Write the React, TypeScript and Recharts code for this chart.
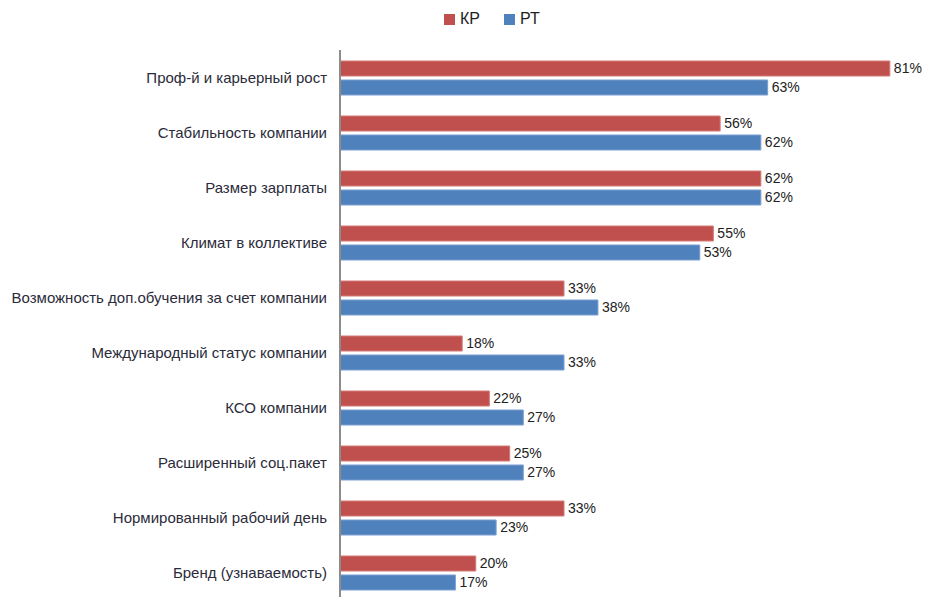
import React from "react";
import { BarChart, Bar, XAxis, YAxis, LabelList } from "recharts";

const categories = [
  "Проф-й и карьерный рост",
  "Стабильность компании",
  "Размер зарплаты",
  "Климат в коллективе",
  "Возможность доп.обучения за счет компании",
  "Международный статус компании",
  "КСО компании ",
  "Расширенный соц.пакет",
  "Нормированный рабочий день",
  "Бренд (узнаваемость)",
];
const krValues = [81, 56, 62, 55, 33, 18, 22, 25, 33, 20];
const rtValues = [63, 62, 62, 53, 38, 33, 27, 27, 23, 17];

const RED = "#C0504D";
const BLUE = "#4F81BD";
const FONT = "'Liberation Sans', Arial, sans-serif";

const data = categories.map((name, i) => ({ name, kr: krValues[i], rt: rtValues[i] }));

const pct = (v: any) => `${v}%`;

export default function App() {
  return (
    <div style={{ position: "absolute", left: 0, top: 0, width: 926, height: 610, background: "#fff", fontFamily: FONT }}>
      <div
        style={{
          position: "absolute",
          top: 10,
          left: 444,
          display: "flex",
          gap: 24,
          fontSize: 16,
          color: "#222",
        }}
      >
        <span style={{ display: "flex", alignItems: "center", gap: 5 }}>
          <span style={{ width: 11, height: 11, background: RED, display: "inline-block" }} />
          КР
        </span>
        <span style={{ display: "flex", alignItems: "center", gap: 5 }}>
          <span style={{ width: 11, height: 11, background: BLUE, display: "inline-block" }} />
          РТ
        </span>
      </div>
      <BarChart
        width={926}
        height={610}
        data={data}
        layout="vertical"
        margin={{ top: 50, right: 9, bottom: 10, left: 0 }}
        barSize={15}
        barGap={4}
      >
        <XAxis type="number" domain={[0, 85]} hide />
        <YAxis
          type="category"
          dataKey="name"
          width={340}
          tickLine={false}
          tickSize={0}
          tickMargin={13}
          axisLine={{ stroke: "#8c8c8c", strokeWidth: 2 }}
          tick={{ fill: "#2b2b3a", fontSize: 15, fontFamily: FONT }}
          interval={0}
        />
        <Bar dataKey="kr" fill={RED} stroke="#d47a78" strokeWidth={1} isAnimationActive={false}>
          <LabelList dataKey="kr" position="right" offset={4} formatter={pct} fill="#222" fontSize={14} fontFamily={FONT} />
        </Bar>
        <Bar dataKey="rt" fill={BLUE} stroke="#7a9fd0" strokeWidth={1} isAnimationActive={false}>
          <LabelList dataKey="rt" position="right" offset={4} formatter={pct} fill="#222" fontSize={14} fontFamily={FONT} />
        </Bar>
      </BarChart>
    </div>
  );
}
